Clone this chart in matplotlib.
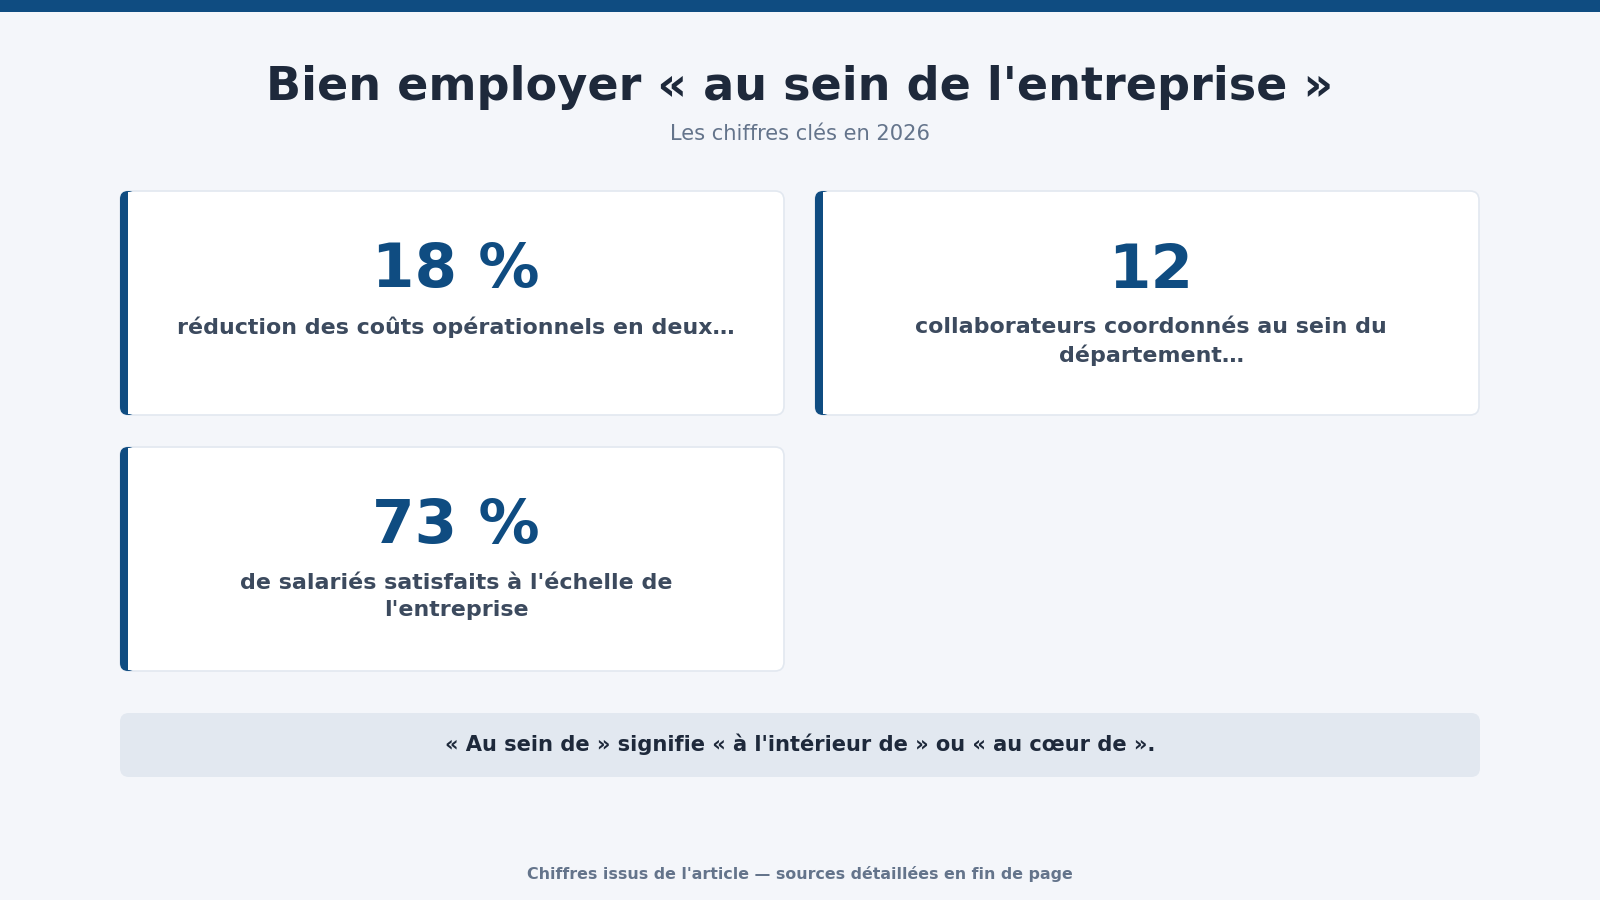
import matplotlib.pyplot as plt
from matplotlib.patches import FancyBboxPatch, Rectangle

# chart content
title = "Bien employer « au sein de l'entreprise »"
subtitle = "Les chiffres clés en 2026"
values = ["18 %", "12", "73 %"]
labels = [
    "réduction des coûts opérationnels en deux…",
    "collaborateurs coordonnés au sein du\ndépartement…",
    "de salariés satisfaits à l'échelle de\nl'entreprise",
]
note = "« Au sein de » signifie « à l'intérieur de » ou « au cœur de »."
footer = "Chiffres issus de l'article — sources détaillées en fin de page"

bg = "#f4f6fa"
blue = "#0f4c81"
dark = "#1e293b"
slate = "#3c4a5e"
grey = "#64748b"

plt.rcParams['font.family'] = ['DejaVu Sans']

fig = plt.figure(figsize=(16, 9), dpi=100, facecolor=bg)
ax = fig.add_axes([0, 0, 1, 1])
ax.set_xlim(0, 1600)
ax.set_ylim(900, 0)
ax.axis("off")
ax.set_facecolor(bg)

# top bar
ax.add_patch(Rectangle((0, 0), 1600, 12, color=blue, lw=0))

ax.text(800, 87, title, ha="center", va="center", fontsize=33.2,
        fontweight="bold", color=dark)
ax.text(800, 134, subtitle, ha="center", va="center", fontsize=15.1,
        color=grey)

# cards, two per row
card_w, card_h = 664, 224
xs = [120, 815]
ys = [191, 447]
for i, (val, lab) in enumerate(zip(values, labels)):
    x = xs[i % 2]
    y = ys[i // 2]
    ax.add_patch(FancyBboxPatch((x, y), card_w, card_h,
                                boxstyle="round,pad=0,rounding_size=9",
                                fc="white", ec="#e2e8f0", lw=1.2))
    ax.add_patch(FancyBboxPatch((x, y), 16, card_h,
                                boxstyle="round,pad=0,rounding_size=8",
                                fc=blue, ec="none"))
    ax.add_patch(Rectangle((x + 8, y + 0.6), 10, card_h - 1.2,
                           fc="white", ec="none"))
    cx = x + card_w / 2 + 4
    ax.text(cx, y + 80, val, ha="center", va="center", fontsize=44,
            fontweight="bold", color=blue)
    ax.text(cx, y + 126, lab, ha="center", va="top", fontsize=15.9,
            fontweight="bold", color=slate, linespacing=1.45)

# note box
ax.add_patch(FancyBboxPatch((120, 713), 1360, 64,
                            boxstyle="round,pad=0,rounding_size=9",
                            fc="#e2e8f0", ec="none"))
ax.text(800, 744, note, ha="center", va="center", fontsize=15.1,
        fontweight="bold", color=dark)

ax.text(800, 874, footer, ha="center", va="center", fontsize=11.45,
        fontweight="bold", color=grey)

fig.savefig("out.png", dpi=100, facecolor=bg)
